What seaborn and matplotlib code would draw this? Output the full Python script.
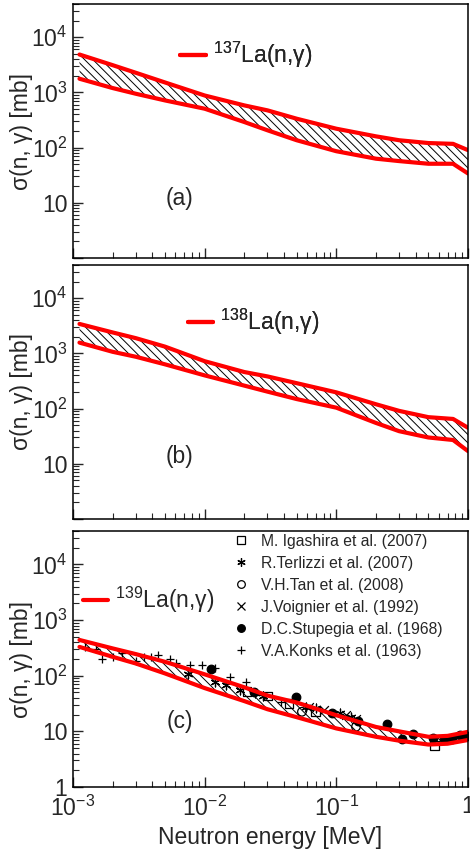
import numpy as np
import pandas as pd
import seaborn as sns
import matplotlib.pyplot as plt
from matplotlib.lines import Line2D
from matplotlib.ticker import LogLocator, NullFormatter

sns.set_style('ticks')
plt.rcParams['font.family'] = ['Liberation Sans', 'DejaVu Sans']
plt.rcParams['mathtext.fontset'] = 'custom'
plt.rcParams['mathtext.rm'] = 'Liberation Sans'
plt.rcParams['mathtext.it'] = 'Liberation Sans:italic'
plt.rcParams['mathtext.bf'] = 'Liberation Sans:bold'
plt.rcParams['mathtext.default'] = 'regular'
plt.rcParams['hatch.linewidth'] = 0.7

# band limits (energy in MeV, sigma in mb)
e_ab = [1.12e-3, 2e-3, 3e-3, 5e-3, 1e-2, 2e-2, 3e-2, 5e-2, 0.1, 0.2, 0.3, 0.5, 0.77, 1.0]
up_a = [4860, 3120, 2270, 1515, 880, 582, 473, 334, 220, 160, 136, 121, 117, 90]
lo_a = [1770, 1200, 946, 716, 507, 291, 206, 136, 86, 63, 57, 51, 51, 34]
up_b = [3420, 2400, 1890, 1327, 723, 460, 383, 289, 197, 120, 91, 70, 65, 45]
lo_b = [1570, 1070, 870, 634, 400, 261, 203, 149, 104, 55, 39, 30, 27, 17]
e_c = [1.12e-3, 2e-3, 3e-3, 5e-3, 1e-2, 2e-2, 3e-2, 5e-2, 0.1, 0.2, 0.3, 0.5, 0.7, 1.0]
up_c = [440, 310, 245, 178, 106, 62, 44, 33, 19.5, 12, 10, 8.0, 8.3, 9.8]
lo_c = [330, 219, 166, 110, 60, 35, 25, 18, 11.3, 8, 6.8, 5.8, 6.0, 7.0]

# measurements for 139La
igashira_e = [0.021, 0.0303, 0.0437, 0.0697, 0.558]
igashira_s = [52, 43, 32, 23, 5.6]
terlizzi_e = [7.46e-3, 0.0119, 0.0146, 0.0185, 0.024, 0.0277, 0.0585, 0.07, 0.106, 0.130]
terlizzi_s = [107, 76, 68, 55, 48, 43, 27.7, 25.9, 21, 18]
tan_e = [0.0548, 0.141, 0.97]
tan_s = [22.5, 12.1, 8.3]
voignier_e = [0.0625, 0.08, 0.118, 0.14]
voignier_s = [27, 24, 20, 17]
stupegia_e = [0.0111, 0.0237, 0.049, 0.092, 0.145, 0.243, 0.317, 0.382, 0.542, 0.657, 0.76, 0.875, 0.99]
stupegia_s = [134, 52, 42, 21, 15.5, 13.4, 7.3, 8.8, 7.5, 7.3, 7.3, 8.6, 8.2]
konks_e = [1.23e-3, 1.50e-3, 1.66e-3, 2.01e-3, 2.37e-3, 2.99e-3, 3.44e-3, 3.94e-3, 4.43e-3,
           5.42e-3, 6.02e-3, 7.78e-3, 9.6e-3, 1.2e-2, 1.57e-2, 2.07e-2, 0.0277, 0.038]
konks_s = [323, 297, 199, 219, 259, 186, 219, 219, 235, 196, 171, 156, 156, 135, 93, 78, 45, 34]

nuclei = ['137', '138', '139']
panel_tags = ['(a)', '(b)', '(c)']

W, H = 470, 849
fig = plt.figure(figsize=(W / 100, H / 100), dpi=100)
rects = [(4, 258), (265, 519), (531, 787)]
axes = [fig.add_axes([73 / W, 1 - b / H, 395 / W, (b - t) / H]) for t, b in rects]

bands = [(e_ab, up_a, lo_a), (e_ab, up_b, lo_b), (e_c, up_c, lo_c)]
fs = 16.5

for i, ax in enumerate(axes):
    e, up, lo = bands[i]
    ax.set_xscale('log')
    ax.set_yscale('log')
    ax.fill_between(e, lo, up, facecolor='none', edgecolor='black', hatch='\\\\\\\\', lw=0)
    df = pd.DataFrame({'E': e, 'up': up, 'lo': lo})
    sns.lineplot(data=df, x='E', y='up', color='red', lw=3, ax=ax)
    sns.lineplot(data=df, x='E', y='lo', color='red', lw=3, ax=ax)
    ax.set_xlim(1e-3, 1)
    ax.set_ylim(1, 4e4)
    ax.set_yticks([1, 10, 100, 1e3, 1e4])
    ylab = ['1' if i == 2 else '', '10', '$10^{2}$', '$10^{3}$', '$10^{4}$']
    ax.set_yticklabels(ylab)
    ax.yaxis.set_minor_locator(LogLocator(base=10, subs=np.arange(2, 10), numticks=20))
    ax.yaxis.set_minor_formatter(NullFormatter())
    ax.xaxis.set_minor_locator(LogLocator(base=10, subs=np.arange(2, 10), numticks=20))
    ax.xaxis.set_minor_formatter(NullFormatter())
    ax.set_xticks([1e-3, 1e-2, 1e-1, 1])
    if i == 2:
        ax.set_xticklabels(['$10^{-3}$', '$10^{-2}$', '$10^{-1}$', '1'])
        ax.set_xlabel('Neutron energy [MeV]', fontsize=fs)
    else:
        ax.set_xticklabels([])
        ax.set_xlabel('')
    ax.set_ylabel('σ(n, γ) [mb]', fontsize=fs)
    ax.yaxis.set_label_coords(-0.10, 0.5)
    ax.tick_params(which='major', direction='in', length=7, width=1, labelsize=fs, pad=4)
    ax.tick_params(axis='x', which='major', pad=6)
    ax.tick_params(which='minor', direction='in', length=4.5, width=0.8)
    ax.tick_params(top=False, right=False, which='both')
    for sp in ax.spines.values():
        sp.set_visible(True)
        sp.set_linewidth(1.1)
        sp.set_color('black')
    ax.text(0.27, 0.235 + 0.01 * i, panel_tags[i], transform=ax.transAxes,
            fontsize=fs, ha='center', va='center')
    handle = Line2D([], [], color='red', lw=3)
    anchors = [(0.272, 0.80), (0.29, 0.776), (0.025, 0.73)]
    leg = ax.legend([handle], ['$^{' + nuclei[i] + '}$La(n,γ)'], loc='center left',
                    bbox_to_anchor=anchors[i], frameon=False, fontsize=fs,
                    handlelength=1.1, handletextpad=0.3, borderaxespad=0, borderpad=0)
    ax.add_artist(leg)

axc = axes[2]
series = [
    ('M. Igashira et al. (2007)', igashira_e, igashira_s, 's', 'none', 'black'),
    ('R.Terlizzi et al. (2007)', terlizzi_e, terlizzi_s, (6, 2, 0), 'black', 'black'),
    ('V.H.Tan et al. (2008)', tan_e, tan_s, 'o', 'none', 'black'),
    ('J.Voignier et al. (1992)', voignier_e, voignier_s, 'x', 'black', 'black'),
    ('D.C.Stupegia et al. (1968)', stupegia_e, stupegia_s, 'o', 'black', 'black'),
    ('V.A.Konks et al. (1963)', konks_e, konks_s, '+', 'black', 'black'),
]
handles = []
for name, xs, ys, mk, fc, ec in series:
    if mk in ('x', '+') or isinstance(mk, tuple):
        sns.scatterplot(x=xs, y=ys, marker=mk, color='black', s=40, linewidth=0.9, ax=axc)
        h = Line2D([], [], ls='none', marker=mk, color='black', markersize=6, markeredgewidth=0.9)
    else:
        sns.scatterplot(x=xs, y=ys, marker=mk, facecolor=fc, edgecolor=ec, s=38, linewidth=0.9, ax=axc)
        h = Line2D([], [], ls='none', marker=mk, markerfacecolor=fc, markeredgecolor=ec,
                   markersize=5.5, markeredgewidth=0.9)
    handles.append(h)
axc.legend(handles, [s[0] for s in series], loc='upper left', bbox_to_anchor=(0.405, 0.99),
           frameon=False, fontsize=11.3, handlelength=1.0, handletextpad=0.8,
           labelspacing=0.45, borderaxespad=0, borderpad=0)

fig.savefig('out.png', dpi=100)
